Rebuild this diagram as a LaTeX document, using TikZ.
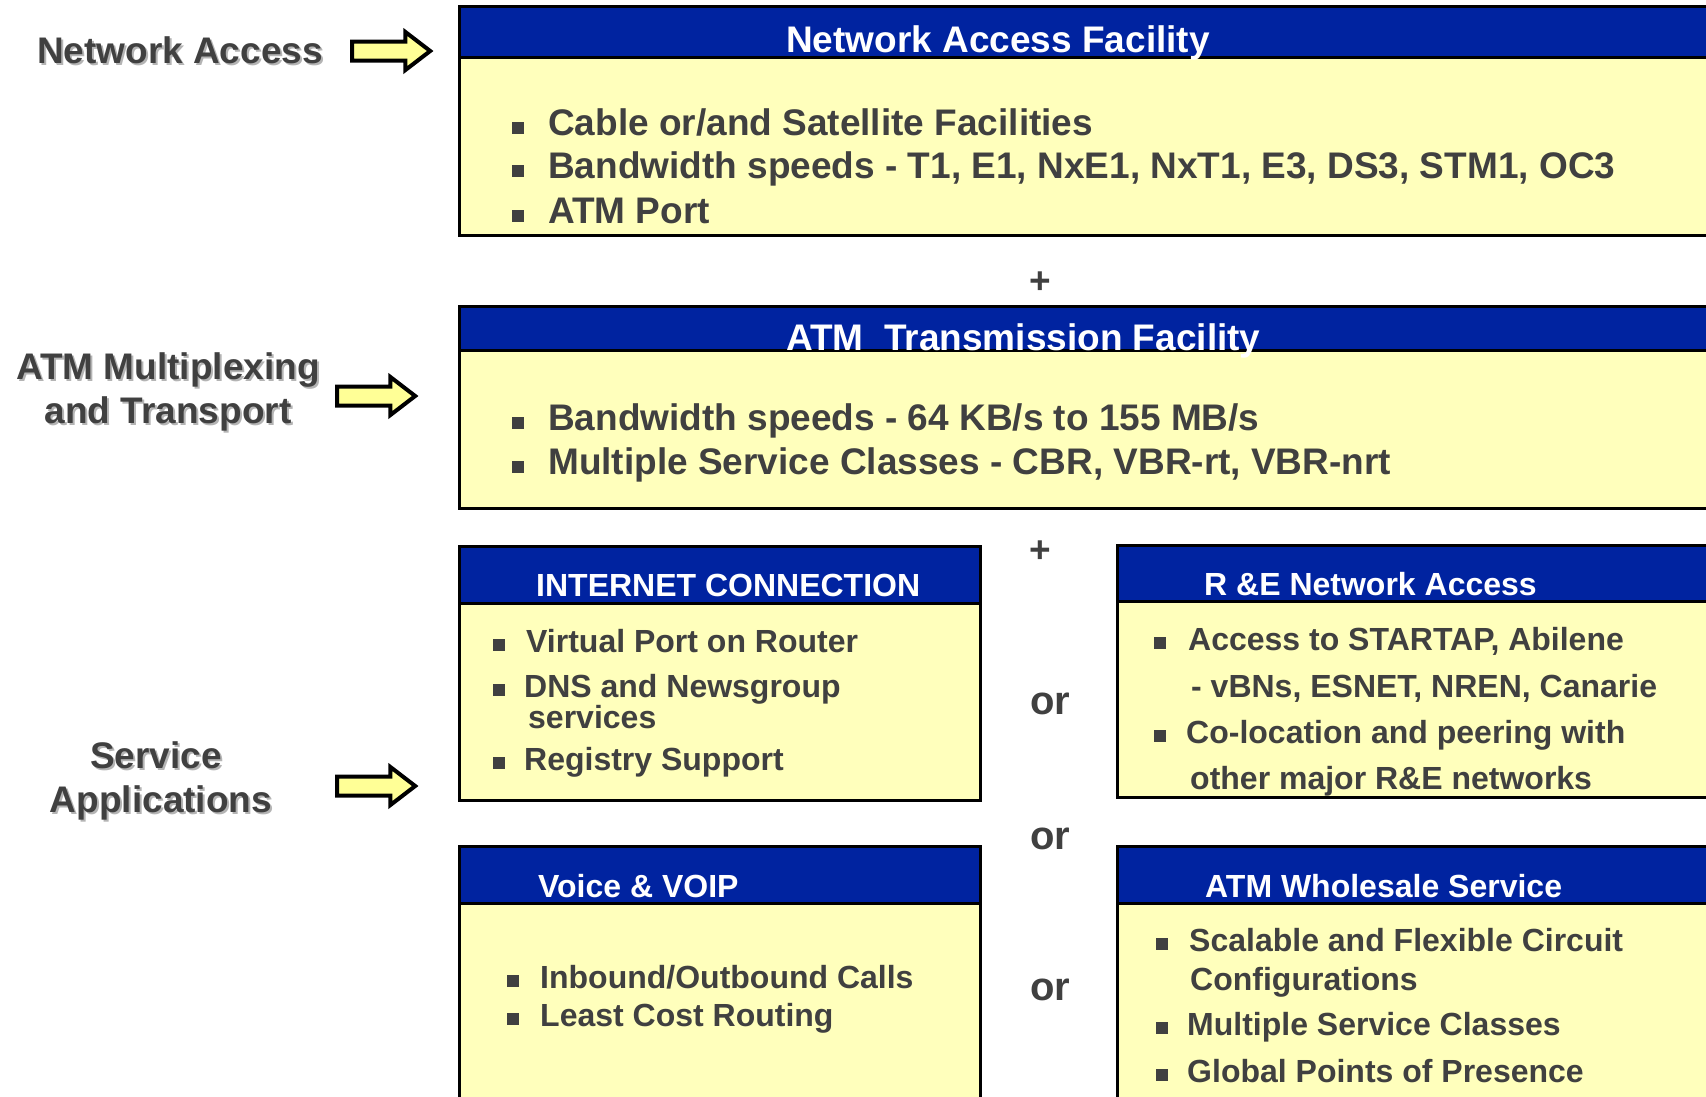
\documentclass[tikz,border=0pt]{standalone}
\usepackage{fontspec}
\setmainfont{Liberation Sans}
\usetikzlibrary{shapes.arrows}

\definecolor{barblue}{RGB}{0,35,160}
\definecolor{paneyellow}{RGB}{255,255,188}
\definecolor{arrowyellow}{RGB}{255,255,150}
\definecolor{ink}{RGB}{64,64,64}
\definecolor{shade}{RGB}{180,180,180}

\tikzset{
  panel/.style={draw=black, line width=3pt, fill=paneyellow},
  bar/.style={draw=black, line width=3pt, fill=barblue},
  headtxt/.style={anchor=base west, text=white, inner sep=0pt, font={\bfseries\fontsize{#1}{#1}\selectfont}},
  itemtxt/.style={anchor=base west, text=ink, inner sep=0pt, font={\bfseries\fontsize{#1}{#1}\selectfont}},
  sidetxt/.style={anchor=base, text=ink, inner sep=0pt, font={\bfseries\fontsize{37}{37}\selectfont}},
  ortxt/.style={anchor=base, text=ink, inner sep=0pt, font={\bfseries\fontsize{#1}{#1}\selectfont}},
  fatarrow/.style={single arrow, draw=black, line width=4pt, fill=arrowyellow,
    minimum height=78pt, minimum width=34pt, single arrow head extend=9.5pt,
    single arrow head indent=0pt, single arrow tip angle=75, inner sep=7.5pt}
}

% bullet item: name, size, bullet x, baseline, text x, text
\newcommand\bitem[6]{%
  \fill[ink] (#3,#4-1) rectangle ++(12,-12);
  \node[itemtxt=#2] (#1) at (#5,#4) {#6};}
% side label with its shadow: name, x, baseline, text
\newcommand\sidelabel[4]{%
  \node[sidetxt, text=shade] (#1s) at (#2+2,#3+2) {#4};
  \node[sidetxt] (#1) at (#2,#3) {#4};}

\begin{document}
\begin{tikzpicture}[x=1pt,y=-1pt]
  \useasboundingbox (0,0) rectangle (1706,1096);
  \clip (0,0) rectangle (1706,1096);
  \fill[white] (0,0) rectangle (1706,1096);

  % left side labels and arrows
  \sidelabel{na}{180}{63}{Network Access}
  \sidelabel{mux}{168}{379}{ATM Multiplexing}
  \sidelabel{tr}{168}{423}{and Transport}
  \sidelabel{sv}{156}{768}{Service}
  \sidelabel{ap}{161}{812}{Applications}
  \node[fatarrow] (arr1) at (385,51) {};
  \node[fatarrow] (arr2) at (370,396) {};
  \node[fatarrow] (arr3) at (370,786) {};

  % network access facility
  \draw[panel] (459,6) rectangle (1720,235);
  \draw[bar] (459,6) rectangle (1720,57);
  \node[headtxt=37] (naf) at (786,52) {Network Access Facility};
  \bitem{cab}{37}{512}{135}{548}{Cable or/and Satellite Facilities}
  \bitem{bw}{37}{512}{178}{548}{Bandwidth speeds - T1, E1, NxE1, NxT1, E3, DS3, STM1, OC3}
  \bitem{port}{37}{512}{223}{548}{ATM Port}
  \node[ortxt=37] (plus1) at (1040,293) {+};

  % atm transmission facility
  \draw[panel] (459,306) rectangle (1720,508);
  \draw[bar] (459,306) rectangle (1720,350);
  \node[headtxt=37] (atf) at (786,350) {ATM\ \ Transmission Facility};
  \bitem{speed}{37}{512}{430}{548}{Bandwidth speeds - 64 KB/s to 155 MB/s}
  \bitem{cls}{37}{512}{474}{548}{Multiple Service Classes - CBR, VBR-rt, VBR-nrt}
  \node[ortxt=37] (plus2) at (1040,562) {+};

  % internet connection
  \draw[panel] (459,546) rectangle (980,800);
  \draw[bar] (459,546) rectangle (980,603);
  \node[headtxt=32] (inet) at (536,596) {INTERNET CONNECTION};
  \bitem{vp}{32}{493}{652}{526}{Virtual Port on Router}
  \bitem{dns}{32}{493}{697}{524}{DNS and Newsgroup}
  \node[itemtxt=32] (dns2) at (528,728) {services};
  \bitem{reg}{32}{493}{770}{524}{Registry Support}

  % r&e network access
  \draw[panel] (1117,545) rectangle (1720,797);
  \draw[bar] (1117,545) rectangle (1720,601);
  \node[headtxt=32] (rne) at (1204,595) {R \&E Network Access};
  \bitem{star}{32}{1154}{650}{1188}{Access to STARTAP, Abilene}
  \node[itemtxt=32] (star2) at (1191,697) {- vBNs, ESNET, NREN, Canarie};
  \bitem{colo}{32}{1154}{743}{1186}{Co-location and peering with}
  \node[itemtxt=32] (colo2) at (1190,789) {other major R\&E networks};

  % voice
  \draw[panel] (459,846) rectangle (980,1110);
  \draw[bar] (459,846) rectangle (980,903);
  \node[headtxt=32] (voip) at (538,897) {Voice \& VOIP};
  \bitem{calls}{32}{507}{988}{540}{Inbound/Outbound Calls}
  \bitem{lcr}{32}{507}{1026}{540}{Least Cost Routing}

  % atm wholesale
  \draw[panel] (1117,846) rectangle (1720,1110);
  \draw[bar] (1117,846) rectangle (1720,903);
  \node[headtxt=32] (whs) at (1205,897) {ATM Wholesale Service};
  \bitem{scal}{32}{1156}{951}{1189}{Scalable and Flexible Circuit}
  \node[itemtxt=32] (scal2) at (1190,990) {Configurations};
  \bitem{msc}{32}{1156}{1035}{1187}{Multiple Service Classes}
  \bitem{gpp}{32}{1156}{1082}{1187}{Global Points of Presence}

  \node[ortxt=40] (or1) at (1050,714) {or};
  \node[ortxt=40] (or2) at (1050,849) {or};
  \node[ortxt=40] (or3) at (1050,1000) {or};
\end{tikzpicture}
\end{document}
